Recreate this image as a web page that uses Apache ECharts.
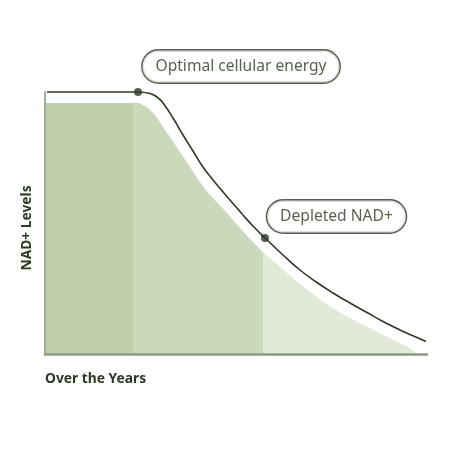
<!DOCTYPE html>
<html>
<head>
<meta charset="utf-8">
<script src="https://cdn.jsdelivr.net/npm/echarts@6/dist/echarts.min.js"></script>
<style>html,body{margin:0;padding:0;background:#fff}#c{width:450px;height:450px}</style>
</head>
<body>
<div id="c"></div>
<script>
// NAD+ level curve (x: time 0-100, y: level 0-100)
var lineX = [0.5, 24.35, 27.49, 29.32, 30.89, 33.51, 36.13, 38.74, 41.36, 43.98, 46.60, 49.21, 51.83, 54.45, 57.59, 62.30, 66.75, 71.20, 75.39, 79.84, 84.29, 88.48, 92.93, 97.38, 99.74];
var lineY = [100, 100, 99.43, 98.09, 95.80, 90.08, 83.59, 77.48, 71.37, 66.41, 61.83, 57.44, 53.05, 48.85, 44.27, 37.79, 32.06, 27.29, 23.28, 19.47, 15.84, 12.40, 9.16, 6.30, 4.77];
// shaded area under the curve
var areaX = [0, 24.08, 25.65, 27.49, 29.32, 30.89, 32.72, 35.34, 37.96, 40.58, 43.98, 47.64, 51.05, 54.45, 57.07, 61.52, 66.75, 71.20, 75.39, 79.84, 84.29, 88.48, 92.93, 96.34, 97.12];
var areaY = [95.80, 95.80, 95.04, 93.13, 90.08, 86.64, 82.82, 77.10, 71.37, 65.65, 59.54, 53.82, 48.09, 42.75, 38.93, 33.21, 26.72, 21.76, 17.56, 13.74, 10.31, 7.25, 4.20, 1.34, 0];
// phase boundaries along x
var phaseBreaks = [23.04, 57.1];
// callout points
var calloutNames = ['Optimal cellular energy', 'Depleted NAD+'];
var calloutX = [24.35, 57.59];
var calloutY = [100, 44.27];

var ink = '#2b3a21';
var bandColors = ['#bdcfa9', '#cbd9bb', '#e1ead6'];
var calloutOffsets = [[103, -25.5], [71.5, -21.5]];

function zip(xs, ys) { return xs.map(function (x, i) { return [x, ys[i]]; }); }

var chart = echarts.init(document.getElementById('c'), null, {renderer: 'canvas'});
chart.setOption({
  animation: false,
  grid: {left: 45, right: 23, top: 92, bottom: 96},
  xAxis: {
    type: 'value', min: 0, max: 100, z: 5,
    name: 'Over the Years', nameLocation: 'start', nameGap: 0,
    nameTextStyle: {align: 'left', verticalAlign: 'top', padding: [18, 0, 0, 0],
      color: ink, fontFamily: 'Noto Sans', fontWeight: 'bold', fontSize: 13.8},
    axisLine: {show: true, lineStyle: {color: '#8d9a80', width: 2.5}},
    axisTick: {show: false}, axisLabel: {show: false}, splitLine: {show: false}
  },
  yAxis: {
    type: 'value', min: 0, max: 100, z: 5,
    name: 'NAD+ Levels', nameLocation: 'middle', nameGap: 11, nameRotate: 90,
    nameTextStyle: {color: ink, fontFamily: 'Noto Sans', fontWeight: 'bold', fontSize: 13.8,
      padding: [0, 10, 0, 0]},
    axisLine: {show: true, lineStyle: {color: '#a3ae98', width: 2}},
    axisTick: {show: false}, axisLabel: {show: false}, splitLine: {show: false}
  },
  visualMap: {
    show: false, type: 'piecewise', seriesIndex: 0, dimension: 0,
    pieces: [
      {lt: phaseBreaks[0], color: bandColors[0]},
      {gte: phaseBreaks[0], lt: phaseBreaks[1], color: bandColors[1]},
      {gte: phaseBreaks[1], color: bandColors[2]}
    ]
  },
  series: [
    {
      type: 'line', data: zip(areaX, areaY), smooth: 0.5,
      symbol: 'none', lineStyle: {width: 0, opacity: 0},
      areaStyle: {opacity: 1}, z: 1
    },
    {
      type: 'line', data: zip(lineX, lineY), smooth: 0.5,
      symbol: 'none', clip: false,
      lineStyle: {color: ink, width: 1.6}, z: 3
    },
    {
      type: 'scatter', clip: false, z: 6,
      data: calloutNames.map(function (n, i) {
        return {
          name: n, value: [calloutX[i], calloutY[i]],
          label: {offset: calloutOffsets[i]}
        };
      }),
      symbol: 'circle', symbolSize: 8, itemStyle: {color: ink},
      label: {
        show: true, position: 'inside', formatter: '{b}',
        color: ink, fontFamily: 'Noto Sans', fontSize: 15.6, lineHeight: 18,
        backgroundColor: '#fff', borderColor: ink, borderWidth: 1.4, borderRadius: 17,
        padding: [7, 13]
      }
    }
  ]
});
</script>
</body>
</html>
